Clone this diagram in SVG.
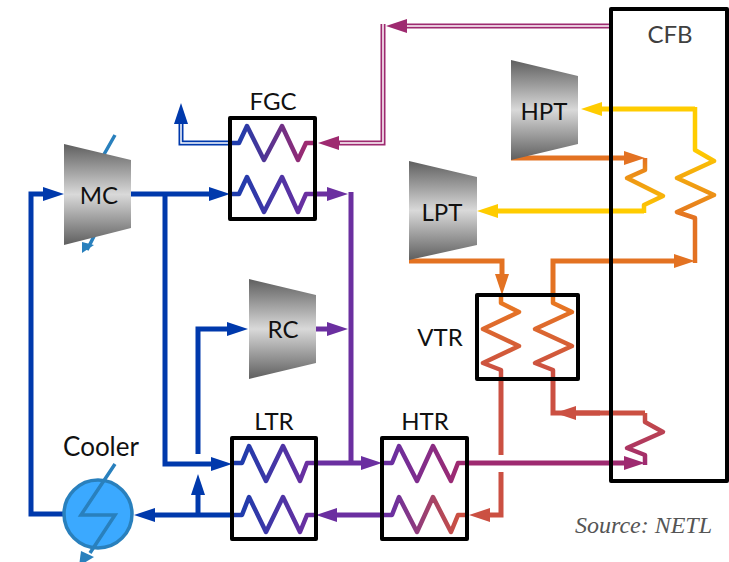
<svg xmlns="http://www.w3.org/2000/svg" width="729" height="562" viewBox="0 0 729 562">
<style>
text{font-family:Lato,"Liberation Sans",sans-serif;font-size:24px;fill:#111;text-anchor:middle}
.box{fill:none;stroke:#000;stroke-width:4;stroke-linejoin:round}
.c{fill:none;stroke-width:5;stroke-linejoin:miter}
.k{fill:none;stroke-width:4.5;stroke-linejoin:round}
.w{fill:none;stroke:#fff;stroke-width:1.5}
.b{fill:none;stroke-width:3.5}
.blue{stroke:#0039AC}.pur{stroke:#6B2FA0}.mag{stroke:#9E2A70}.red{stroke:#CB5042}.ora{stroke:#E37222}.yel{stroke:#FFCC00}.sh{stroke:#2980BD}
</style>
<defs>
<marker id="aBlue" markerUnits="userSpaceOnUse" markerWidth="21" markerHeight="14" viewBox="0 0 21 14" refX="5" refY="7" orient="auto"><path d="M0 0L21 7L0 14Z" fill="#0039AC"/></marker>
<marker id="aPur" markerUnits="userSpaceOnUse" markerWidth="21" markerHeight="14" viewBox="0 0 21 14" refX="5" refY="7" orient="auto"><path d="M0 0L21 7L0 14Z" fill="#6B2FA0"/></marker>
<marker id="aMag" markerUnits="userSpaceOnUse" markerWidth="21" markerHeight="14" viewBox="0 0 21 14" refX="5" refY="7" orient="auto"><path d="M0 0L21 7L0 14Z" fill="#9E2A70"/></marker>
<marker id="aRed" markerUnits="userSpaceOnUse" markerWidth="21" markerHeight="14" viewBox="0 0 21 14" refX="5" refY="7" orient="auto"><path d="M0 0L21 7L0 14Z" fill="#CB5042"/></marker>
<marker id="aOra" markerUnits="userSpaceOnUse" markerWidth="21" markerHeight="14" viewBox="0 0 21 14" refX="5" refY="7" orient="auto"><path d="M0 0L21 7L0 14Z" fill="#E37222"/></marker>
<marker id="aYel" markerUnits="userSpaceOnUse" markerWidth="21" markerHeight="14" viewBox="0 0 21 14" refX="5" refY="7" orient="auto"><path d="M0 0L21 7L0 14Z" fill="#FFCC00"/></marker>
<linearGradient id="turb" x1="0" y1="0" x2="0" y2="1"><stop offset="0" stop-color="#5f5f5f"/><stop offset=".5" stop-color="#d9d9d9"/><stop offset="1" stop-color="#5f5f5f"/></linearGradient>
<linearGradient id="gFgcT" gradientUnits="userSpaceOnUse" x1="239" y1="0" x2="306" y2="0"><stop offset="0" stop-color="#1F3CAC"/><stop offset="1" stop-color="#9E2A70"/></linearGradient>
<linearGradient id="gFgcB" gradientUnits="userSpaceOnUse" x1="239" y1="0" x2="306" y2="0"><stop offset="0" stop-color="#1F3CAC"/><stop offset="1" stop-color="#6B2FA0"/></linearGradient>
<linearGradient id="gLtr" gradientUnits="userSpaceOnUse" x1="242" y1="0" x2="307" y2="0"><stop offset="0" stop-color="#1F3CAC"/><stop offset="1" stop-color="#6B2FA0"/></linearGradient>
<linearGradient id="gHtrT" gradientUnits="userSpaceOnUse" x1="392" y1="0" x2="458" y2="0"><stop offset="0" stop-color="#6B2FA0"/><stop offset="1" stop-color="#9E2A70"/></linearGradient>
<linearGradient id="gHtrB" gradientUnits="userSpaceOnUse" x1="392" y1="0" x2="458" y2="0"><stop offset="0" stop-color="#6B2FA0"/><stop offset="1" stop-color="#CB5042"/></linearGradient>
<linearGradient id="gVtr" gradientUnits="userSpaceOnUse" x1="0" y1="303" x2="0" y2="370"><stop offset="0" stop-color="#E87722"/><stop offset="1" stop-color="#CB5042"/></linearGradient>
<linearGradient id="gCfbA" gradientUnits="userSpaceOnUse" x1="0" y1="413" x2="0" y2="463"><stop offset="0" stop-color="#CB5042"/><stop offset="1" stop-color="#9E2A70"/></linearGradient>
<linearGradient id="gCfbB" gradientUnits="userSpaceOnUse" x1="0" y1="158" x2="0" y2="211"><stop offset="0" stop-color="#E37222"/><stop offset="1" stop-color="#FFCC00"/></linearGradient>
<linearGradient id="gCfbC" gradientUnits="userSpaceOnUse" x1="0" y1="150" x2="0" y2="218"><stop offset="0" stop-color="#FFCC00"/><stop offset="1" stop-color="#E37222"/></linearGradient>
</defs>
<g id="connectors">
<path class="c blue" d="M64 514H31V194H48" marker-end="url(#aBlue)"/>
<path class="c blue" d="M131 194H214" marker-end="url(#aBlue)"/>
<path class="c blue" d="M165 194V464H216" marker-end="url(#aBlue)"/>
<path class="c blue" d="M198 454V329H232" marker-end="url(#aBlue)"/>
<path class="c blue" d="M232 515H150" marker-end="url(#aBlue)"/>
<path class="c blue" d="M198 515V490" marker-end="url(#aBlue)"/>
<path class="c blue" d="M230 143H181V119" marker-end="url(#aBlue)"/>
<path class="w" d="M230 143H181V124"/>
<path class="c pur" d="M315 194H332" marker-end="url(#aPur)"/>
<path class="c pur" d="M351 192V463"/>
<path class="c pur" d="M316 329H332" marker-end="url(#aPur)"/>
<path class="c pur" d="M316 463H366" marker-end="url(#aPur)"/>
<path class="c pur" d="M382 515H332" marker-end="url(#aPur)"/>
<path class="c mag" d="M611 26H402" marker-end="url(#aMag)"/>
<path class="w" d="M611 26H407"/>
<path class="c mag" d="M383 24V143H334" marker-end="url(#aMag)"/>
<path class="w" d="M383 24V143H340"/>
<path class="c mag" d="M467 463H629" marker-end="url(#aMag)"/>
<path class="c red" d="M501 379V455"/>
<path class="c red" d="M501 472V515H485" marker-end="url(#aRed)"/>
<path class="c red" d="M553 379V413H645"/>
<path class="c red" d="M600 413H571" marker-end="url(#aRed)"/>
<path class="c ora" d="M511 158H629" marker-end="url(#aOra)"/>
<path class="c ora" d="M409 261H502V279" marker-end="url(#aOra)"/>
<path class="c ora" d="M553 295V261H679" marker-end="url(#aOra)"/>
<path class="c yel" d="M644 211H493" marker-end="url(#aYel)"/>
<path class="c yel" d="M695 109H597" marker-end="url(#aYel)"/>
</g>
<g id="MC">
<path class="b sh" d="M115 135L81 195H115L87 250"/>
<path d="M82 242L94 245L82 253Z" fill="#2980BD"/>
<path d="M64 144L131 160V228L64 245Z" fill="url(#turb)"/>
<text x="99" y="204">MC</text>
</g>
<g id="FGC">
<text x="273" y="110">FGC</text>
<path class="k" stroke="url(#gFgcT)" d="M230 143H239L247 126L264 160L282 126L298 160L306 143H315"/>
<path class="k" stroke="url(#gFgcB)" d="M230 194H239L247 177L264 212L282 177L298 212L306 194H315"/>
<rect class="box" x="230" y="118" width="85" height="101"/>
</g>
<g id="RC">
<path d="M249 279L316 295V363L249 379Z" fill="url(#turb)"/>
<text x="283" y="338">RC</text>
</g>
<g id="LTR">
<text x="274" y="430">LTR</text>
<path class="k" stroke="url(#gLtr)" d="M232 463H242L249 446L266 481L283 446L300 481L307 463H316"/>
<path class="k" stroke="url(#gLtr)" d="M232 515H242L249 497L266 532L283 497L300 532L307 515H316"/>
<rect class="box" x="232" y="438" width="84" height="101"/>
</g>
<g id="HTR">
<text x="425" y="430">HTR</text>
<path class="k" stroke="url(#gHtrT)" d="M382 463H392L399 446L417 481L433 446L451 481L458 463H467"/>
<path class="k" stroke="url(#gHtrB)" d="M382 515H392L399 497L417 532L433 497L451 532L458 515H467"/>
<rect class="box" x="382" y="438" width="85" height="101"/>
</g>
<g id="VTR">
<text x="440" y="346">VTR</text>
<path class="k" stroke="url(#gVtr)" d="M501 295V303L519 312L483 329L519 346L483 363L501 370V379"/>
<path class="k" stroke="url(#gVtr)" d="M553 295V303L572 312L535 329L572 346L535 363L553 370V379"/>
<rect class="box" x="477" y="295" width="101" height="84"/>
</g>
<g id="HPT">
<path d="M511 60L578 76V144L511 160Z" fill="url(#turb)"/>
<text x="544" y="120">HPT</text>
</g>
<g id="LPT">
<path d="M409 161L477 177V245L409 260Z" fill="url(#turb)"/>
<text x="442" y="221">LPT</text>
</g>
<g id="CFB">
<path class="k" stroke="url(#gCfbA)" d="M645 413V422L663 432L627 448L645 455V465"/>
<path class="k" stroke="url(#gCfbB)" d="M645 158V170L627 178L663 196L644 205V213"/>
<path class="k" stroke="url(#gCfbC)" d="M695 107V150L714 161L677 178L714 195L677 212L695 218V263"/>
<rect class="box" x="611" y="9" width="116" height="472"/>
<text x="670" y="43" style="fill:#404040">CFB</text>
</g>
<g id="Cooler">
<text x="101" y="456" style="font-size:26px">Cooler</text>
<circle cx="98" cy="514" r="34" fill="#3BA9FF" stroke="#2980BD" stroke-width="3.5"/>
<path class="b sh" d="M115 464L81 515H115L90 553"/>
<path d="M81 551L94 557L79 566Z" fill="#2980BD"/>
</g>
<text x="643.5" y="533" style="font-family:'Liberation Serif',serif;font-style:italic;font-size:24px;fill:#555">Source: NETL</text>
</svg>
